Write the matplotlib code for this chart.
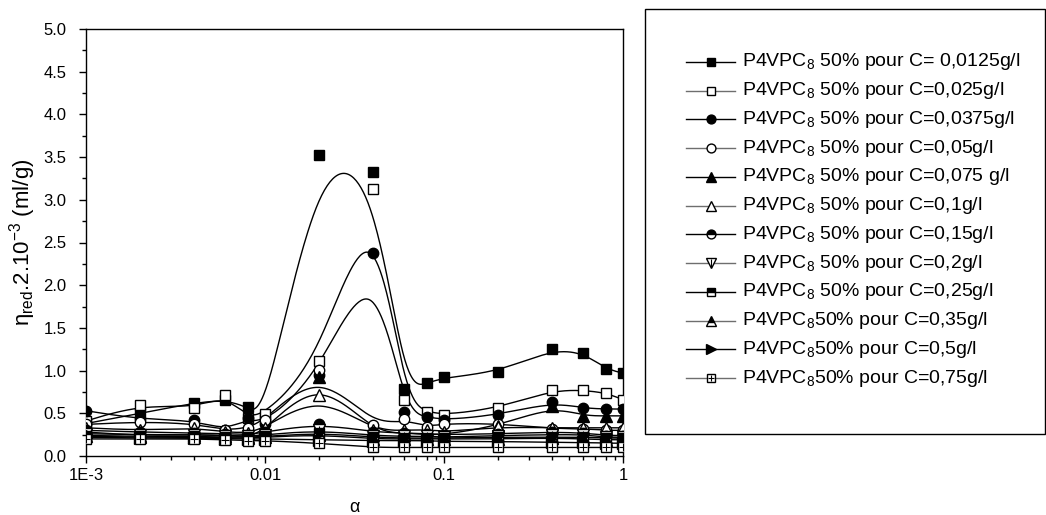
import numpy as np
import matplotlib
matplotlib.use("Agg")
import matplotlib.pyplot as plt
from matplotlib.lines import Line2D
from matplotlib.patches import Rectangle

plt.rcParams['font.family'] = ['Liberation Sans', 'DejaVu Sans']
plt.rcParams['mathtext.default'] = 'regular'

# ---------------- data ----------------
alpha = [0.001, 0.002, 0.004, 0.006, 0.008, 0.01, 0.02, 0.04, 0.06, 0.08,
         0.1, 0.2, 0.4, 0.6, 0.8, 1.0]

labels = [
    "P4VPC$_8$ 50% pour C= 0,0125g/l",
    "P4VPC$_8$ 50% pour C=0,025g/l",
    "P4VPC$_8$ 50% pour C=0,0375g/l",
    "P4VPC$_8$ 50% pour C=0,05g/l",
    "P4VPC$_8$ 50% pour C=0,075 g/l",
    "P4VPC$_8$ 50% pour C=0,1g/l",
    "P4VPC$_8$ 50% pour C=0,15g/l",
    "P4VPC$_8$ 50% pour C=0,2g/l",
    "P4VPC$_8$ 50% pour C=0,25g/l",
    "P4VPC$_8$50% pour C=0,35g/l",
    "P4VPC$_8$50% pour C=0,5g/l",
    "P4VPC$_8$50% pour C=0,75g/l",
]

c0125 = [0.38, 0.50, 0.62, 0.66, 0.57, 0.45, 3.53, 3.32, 0.78, 0.85, 0.92, 0.98, 1.25, 1.21, 1.02, 0.97]
c025 = [0.41, 0.60, 0.56, 0.71, 0.45, 0.49, 1.11, 3.13, 0.66, 0.52, 0.48, 0.56, 0.77, 0.77, 0.74, 0.66]
c0375 = [0.53, 0.43, 0.42, 0.30, 0.44, 0.38, 0.95, 2.38, 0.52, 0.46, 0.42, 0.48, 0.63, 0.56, 0.55, 0.55]
c05 = [0.37, 0.40, 0.38, 0.30, 0.33, 0.42, 1.01, 0.36, 0.43, 0.34, 0.38, 0.38, 0.32, 0.32, 0.30, 0.30]
c075 = [0.28, 0.24, 0.25, 0.24, 0.22, 0.30, 0.93, 0.28, 0.27, 0.25, 0.25, 0.35, 0.58, 0.47, 0.47, 0.47]
c1 = [0.33, 0.30, 0.33, 0.28, 0.27, 0.33, 0.72, 0.30, 0.30, 0.31, 0.28, 0.34, 0.33, 0.33, 0.33, 0.33]
c15 = [0.30, 0.28, 0.27, 0.26, 0.25, 0.28, 0.38, 0.28, 0.27, 0.26, 0.25, 0.26, 0.28, 0.27, 0.24, 0.24]
c2 = [0.26, 0.25, 0.25, 0.24, 0.23, 0.25, 0.30, 0.24, 0.23, 0.23, 0.22, 0.24, 0.25, 0.25, 0.22, 0.22]
c25 = [0.24, 0.23, 0.23, 0.22, 0.22, 0.23, 0.27, 0.22, 0.21, 0.21, 0.21, 0.22, 0.22, 0.22, 0.21, 0.21]
c35 = [0.23, 0.22, 0.22, 0.21, 0.21, 0.22, 0.25, 0.20, 0.20, 0.20, 0.20, 0.20, 0.21, 0.20, 0.19, 0.19]
c5 = [0.22, 0.21, 0.21, 0.20, 0.20, 0.20, 0.19, 0.18, 0.18, 0.18, 0.17, 0.17, 0.16, 0.16, 0.15, 0.15]
c75 = [0.20, 0.20, 0.20, 0.19, 0.18, 0.18, 0.15, 0.10, 0.10, 0.10, 0.10, 0.10, 0.10, 0.10, 0.10, 0.10]

series = [c0125, c025, c0375, c05, c075, c1, c15, c2, c25, c35, c5, c75]

# marker styles: (marker, facecolor, fillstyle, overlay)
styles = [
    ('s', 'black', 'full', None),
    ('s', 'white', 'full', None),
    ('o', 'black', 'full', None),
    ('o', 'white', 'full', None),
    ('^', 'black', 'full', None),
    ('^', 'white', 'full', None),
    ('o', 'black', 'top', None),
    ('v', 'white', 'full', '|'),
    ('s', 'black', 'top', None),
    ('^', 'black', 'top', None),
    ('>', 'black', 'full', None),
    ('s', 'white', 'full', '+'),
]
msizes = [6.5, 6.5, 7.5, 7.5, 8.5, 8.5, 7.5, 8, 6.5, 8.5, 8.5, 6.5]


def bspline(xs, ys, n=40):
    P = np.column_stack([np.log10(xs), ys])
    P = np.vstack([P[0], P[0], P, P[-1], P[-1]])
    M = np.array([[-1, 3, -3, 1], [3, -6, 3, 0], [-3, 0, 3, 0], [1, 4, 1, 0]]) / 6.0
    t = np.linspace(0, 1, n)
    T = np.column_stack([t**3, t**2, t, np.ones_like(t)])
    out = []
    for i in range(len(P) - 3):
        out.append(T @ M @ P[i:i + 4])
    out = np.vstack(out)
    return 10 ** out[:, 0], out[:, 1]


fig = plt.figure(figsize=(10.46, 5.15), dpi=100)
ax = fig.add_axes([86 / 1046, 1 - 456 / 515, (623 - 86) / 1046, (456 - 29) / 515])

for ys, (m, fc, fs, ov), ms in zip(series, styles, msizes):
    sx, sy = bspline(alpha, ys)
    ax.plot(sx, sy, color='black', lw=1.0, zorder=2)
    ax.plot(alpha, ys, linestyle='none', marker=m, markersize=ms,
            markerfacecolor=fc, markerfacecoloralt='white', fillstyle=fs,
            markeredgecolor='black', markeredgewidth=1.0, zorder=3)
    if ov:
        ax.plot(alpha, ys, linestyle='none', marker=ov, markersize=ms * 0.8,
                markeredgecolor='black', markeredgewidth=0.8, zorder=4)

ax.set_xscale('log')
ax.set_xlim(0.001, 1)
ax.set_ylim(0, 5)
ax.set_xticks([0.001, 0.01, 0.1, 1])
ax.set_xticklabels(['1E-3', '0.01', '0.1', '1'])
ax.set_yticks(np.arange(0, 5.01, 0.5))
ax.set_yticklabels([f"{v:.1f}" for v in np.arange(0, 5.01, 0.5)])
ax.set_yticks(np.arange(0, 5.01, 0.25), minor=True)
ax.tick_params(axis='both', which='major', direction='out', length=5, width=1,
               labelsize=12, top=False, right=False)
ax.tick_params(axis='y', which='major', pad=9)
ax.tick_params(axis='both', which='minor', direction='out', length=3, width=1,
               top=False, right=False)
for sp in ax.spines.values():
    sp.set_linewidth(1.0)

ax.set_xlabel('α', fontsize=13, labelpad=12)
ax.set_ylabel('η$_{red}$.2.10$^{-3}$ (ml/g)', fontsize=16, labelpad=4)

# legend box and entries drawn in figure coordinates
W, H = 1046.0, 515.0
fig.add_artist(Rectangle((645 / W, 1 - 434 / H), (1044.5 - 645) / W, (434 - 9) / H,
                         transform=fig.transFigure, fill=False,
                         edgecolor='black', linewidth=1.0))
for i, (lab, (m, fc, fs, ov), ms) in enumerate(zip(labels, styles, msizes)):
    yp = 1 - (62 + i * 28.73) / H
    lc = 'black' if i % 2 == 0 else '#6e6e6e'
    fig.add_artist(Line2D([686 / W, 735 / W], [yp, yp], transform=fig.transFigure,
                          color=lc, lw=1.0))
    fig.add_artist(Line2D([710.5 / W], [yp], transform=fig.transFigure,
                          linestyle='none', marker=m, markersize=ms * 0.85,
                          markerfacecolor=fc, markerfacecoloralt='white',
                          fillstyle=fs, markeredgecolor='black', markeredgewidth=1.0))
    if ov:
        fig.add_artist(Line2D([710.5 / W], [yp], transform=fig.transFigure,
                              linestyle='none', marker=ov, markersize=ms * 0.7,
                              markeredgecolor='black', markeredgewidth=0.8))
    fig.text(742 / W, yp, lab, fontsize=14, va='center', ha='left')

fig.savefig('out.png', dpi=100)
